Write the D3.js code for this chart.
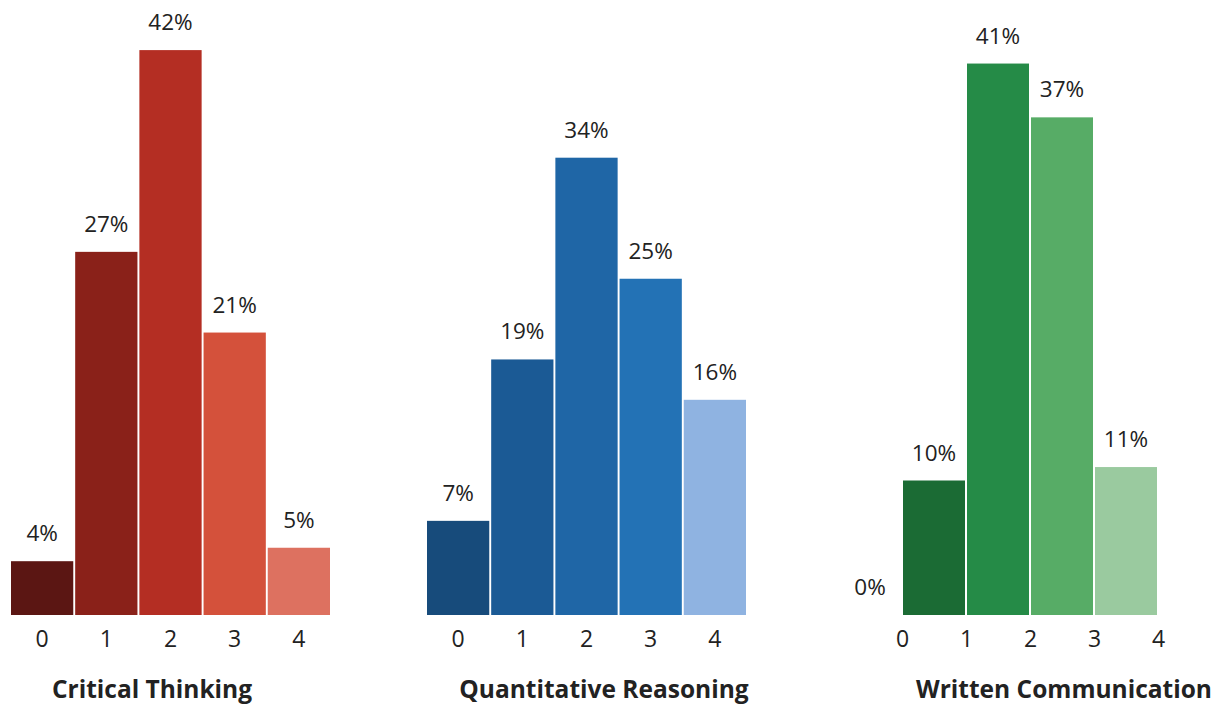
<!DOCTYPE html>
<html>
<head>
<meta charset="utf-8">
<script src="https://cdn.jsdelivr.net/npm/d3@7"></script>
<style>
  html, body { margin: 0; padding: 0; background: #fff; }
  svg { display: block; }
  text { font-family: "Open Sans", "DejaVu Sans", sans-serif; fill: #222; }
  .axis text { font-size: 23px; }
  .axis .domain, .axis line { display: none; }
  .value { font-size: 22.5px; }
  .title { font-size: 24.5px; font-weight: 700; }
</style>
</head>
<body>
<svg id="chart" width="1216" height="705"></svg>
<script>
// Score levels shown under each panel
const levels = [0, 1, 2, 3, 4];

// Percent of students at each score level
const criticalThinking = [4, 27, 42, 21, 5];
const quantitativeReasoning = [7, 19, 34, 25, 16];
const writtenCommunication = [0, 10, 41, 37, 11];

// Panel titles
const titles = ["Critical Thinking", "Quantitative Reasoning", "Written Communication"];

// Bar fills, darkest to lightest
const redShades = ["#5b1613", "#8a2119", "#b42e23", "#d4513b", "#dd7160"];
const blueShades = ["#174b7b", "#1b5a95", "#1f66a6", "#2372b5", "#8fb3e1"];
const greenShades = ["#1b6b34", "#258b47", "#57ac66", "#9aca9f"];

const svg = d3.select("#chart");
const baseY = 615;
const y = d3.scaleLinear().domain([0, 45]).range([baseY, baseY - 45 * 13.45]);
const pct = v => v + "%";

// Panels whose bars sit centred over their score label
function centredPanel(values, colors, x0, x1, title, titleX) {
  const g = svg.append("g");
  const x = d3.scaleBand().domain(levels).range([x0, x1]).paddingInner(0.03).paddingOuter(0);
  const rows = levels.map((lv, i) => ({ lv, v: values[i], c: colors[i] }));

  g.selectAll("rect").data(rows).join("rect")
    .attr("x", d => x(d.lv))
    .attr("width", x.bandwidth())
    .attr("y", d => y(d.v))
    .attr("height", d => y(0) - y(d.v))
    .attr("fill", d => d.c);

  g.selectAll("text.value").data(rows).join("text")
    .attr("class", "value")
    .attr("x", d => x(d.lv) + x.bandwidth() / 2)
    .attr("y", d => y(d.v) - 20)
    .attr("text-anchor", "middle")
    .text(d => pct(d.v));

  g.append("g").attr("class", "axis")
    .attr("transform", `translate(0,${baseY})`)
    .call(d3.axisBottom(x).tickSize(0).tickPadding(16))
    .selectAll("text").attr("fill", "#222").attr("dy", "0.71em");

  g.append("text").attr("class", "title")
    .attr("x", titleX).attr("y", 698)
    .attr("text-anchor", "middle")
    .text(title);
}

centredPanel(criticalThinking, redShades, 11, 330, titles[0], 152);
centredPanel(quantitativeReasoning, blueShades, 427, 746, titles[1], 604);

// Written communication: bars span the interval ending at each score mark
(function () {
  const g = svg.append("g");
  const x = d3.scaleLinear().domain([-1, 4]).range([838, 1158]);
  const rows = levels.map((lv, i) => ({ lv, v: writtenCommunication[i], c: i > 0 ? greenShades[i - 1] : greenShades[0] }));
  const gap = 1;

  g.selectAll("rect").data(rows.filter(d => d.v > 0)).join("rect")
    .attr("x", d => x(d.lv - 1) + gap)
    .attr("width", d => x(d.lv) - x(d.lv - 1) - 2 * gap)
    .attr("y", d => y(d.v))
    .attr("height", d => y(0) - y(d.v))
    .attr("fill", d => d.c);

  g.selectAll("text.value").data(rows).join("text")
    .attr("class", "value")
    .attr("x", d => (x(d.lv - 1) + x(d.lv)) / 2)
    .attr("y", d => y(d.v) - 20)
    .attr("text-anchor", "middle")
    .text(d => pct(d.v));

  g.append("g").attr("class", "axis")
    .attr("transform", `translate(0,${baseY})`)
    .call(d3.axisBottom(x).tickValues(levels).tickFormat(d3.format("d")).tickSize(0).tickPadding(16))
    .selectAll("text").attr("fill", "#222").attr("dy", "0.71em");

  g.append("text").attr("class", "title")
    .attr("x", 1064).attr("y", 698)
    .attr("text-anchor", "middle")
    .text(titles[2]);
})();
</script>
</body>
</html>
